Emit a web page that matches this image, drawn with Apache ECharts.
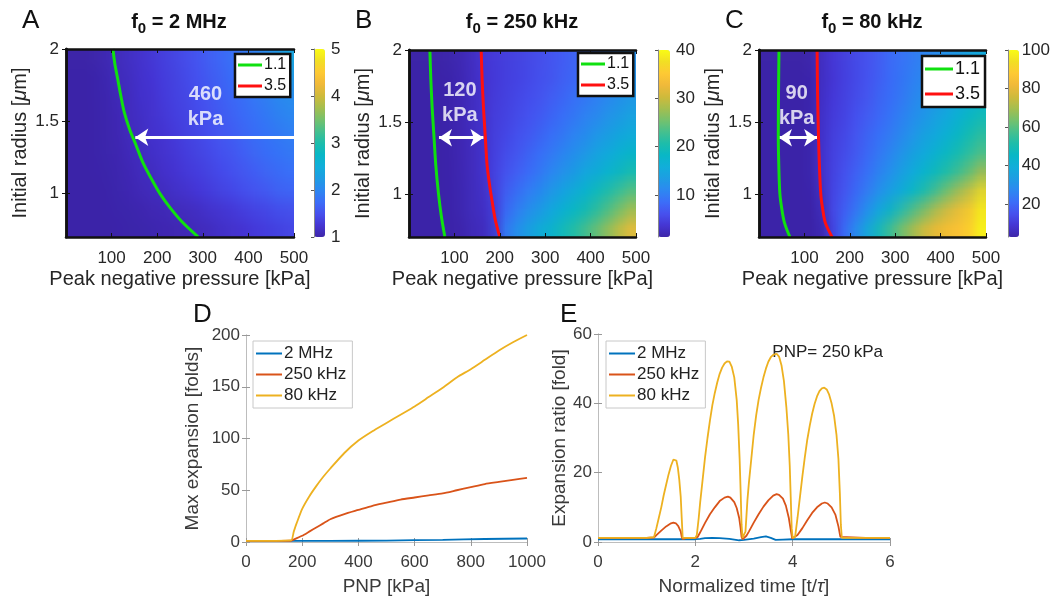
<!DOCTYPE html>
<html><head><meta charset="utf-8">
<script src="https://cdn.jsdelivr.net/npm/echarts@6/dist/echarts.min.js"></script>
<style>
html,body{margin:0;padding:0;background:#fff}
#wrap{position:relative;width:1053px;height:597px;overflow:hidden}
#c{position:absolute;left:0;top:0;width:1053px;height:597px;z-index:2}
.heat{position:absolute;width:20px;height:10px;transform-origin:0 0;z-index:1}
.heat canvas{image-rendering:auto}
</style>
</head><body><div id="wrap">
<div id="hA" class="heat"></div><div id="hB" class="heat"></div><div id="hC" class="heat"></div>
<div id="c"></div></div>
<script>
// ---------- DATA ----------
const pressureCells = [12.5,37.5,62.5,87.5,112.5,137.5,162.5,187.5,212.5,237.5,262.5,287.5,312.5,337.5,362.5,387.5,412.5,437.5,462.5,487.5];
const radiusCells = [0.765,0.895,1.025,1.155,1.285,1.415,1.545,1.675,1.805,1.935];
const pressureTicks = [100,200,300,400,500];
const radiusTicks = [1,1.5,2];

// rows from smallest radius (bottom) to largest (top)
const heatA = [
 [1.0,1.0,1.0,1.0,1.01,1.02,1.03,1.04,1.05,1.06,1.08,1.1,1.13,1.16,1.2,1.24,1.28,1.32,1.36,1.4],
 [1.0,1.0,1.0,1.01,1.02,1.03,1.04,1.06,1.07,1.09,1.1,1.13,1.17,1.21,1.25,1.29,1.33,1.37,1.41,1.45],
 [1.0,1.0,1.0,1.02,1.03,1.05,1.08,1.1,1.12,1.16,1.2,1.25,1.3,1.35,1.4,1.45,1.5,1.55,1.6,1.65],
 [1.0,1.0,1.01,1.02,1.04,1.07,1.1,1.13,1.17,1.22,1.27,1.32,1.37,1.42,1.48,1.53,1.59,1.64,1.7,1.75],
 [1.0,1.0,1.01,1.03,1.05,1.08,1.12,1.16,1.21,1.26,1.31,1.37,1.42,1.48,1.54,1.6,1.66,1.72,1.78,1.83],
 [1.0,1.0,1.01,1.03,1.06,1.1,1.14,1.19,1.24,1.29,1.35,1.41,1.47,1.53,1.59,1.65,1.72,1.78,1.84,1.9],
 [1.0,1.0,1.01,1.04,1.07,1.12,1.16,1.21,1.27,1.32,1.38,1.44,1.5,1.57,1.63,1.7,1.77,1.84,1.9,1.96],
 [1.0,1.0,1.02,1.04,1.08,1.13,1.18,1.23,1.29,1.35,1.41,1.47,1.54,1.61,1.68,1.75,1.82,1.89,1.96,2.04],
 [1.0,1.0,1.02,1.05,1.09,1.14,1.19,1.25,1.31,1.37,1.43,1.5,1.57,1.64,1.72,1.8,1.87,1.95,2.04,2.14],
 [1.0,1.0,1.02,1.05,1.1,1.15,1.2,1.26,1.32,1.38,1.45,1.52,1.6,1.68,1.76,1.84,1.92,2.02,2.14,2.35]
];
const heatB = [
 [1.0,1.0,1.04,1.18,1.5,2.0,2.5,3.0,9.5,12.0,14.0,16.0,17.8,19.6,21.4,23.3,25.3,27.5,30.0,33.0],
 [1.0,1.01,1.06,1.25,1.65,2.2,2.75,3.3,8.2,10.2,12.0,13.7,15.3,16.9,18.5,20.2,22.0,24.0,26.2,28.8],
 [1.0,1.01,1.08,1.3,1.75,2.35,2.9,4.2,7.2,8.8,10.3,11.8,13.3,14.8,16.3,17.9,19.5,21.2,23.0,25.0],
 [1.0,1.02,1.1,1.35,1.8,2.45,3.0,4.8,6.2,7.4,8.6,9.8,11.0,12.3,13.6,14.9,16.3,17.7,19.2,20.8],
 [1.0,1.02,1.12,1.38,1.85,2.5,3.1,4.6,5.7,6.7,7.7,8.8,9.9,11.0,12.1,13.3,14.5,15.7,17.0,18.4],
 [1.0,1.02,1.14,1.42,1.88,2.55,3.2,4.5,5.3,6.1,7.0,7.9,8.8,9.8,10.8,11.8,12.9,14.0,15.1,16.3],
 [1.0,1.03,1.16,1.45,1.9,2.6,3.3,4.4,5.0,5.7,6.4,7.2,8.0,8.8,9.7,10.6,11.5,12.5,13.5,14.6],
 [1.0,1.03,1.18,1.45,1.9,2.55,3.4,4.3,4.8,5.4,6.0,6.6,7.3,8.0,8.8,9.6,10.4,11.3,12.2,13.2],
 [1.0,1.03,1.17,1.42,1.85,2.5,3.5,4.2,4.6,5.1,5.6,6.1,6.7,7.4,8.1,8.8,9.6,10.4,11.3,12.3],
 [1.0,1.02,1.15,1.4,1.8,2.4,3.6,4.1,4.5,4.9,5.3,5.8,6.4,7.0,7.6,8.3,9.0,9.8,10.8,12.0]
];
const heatC = [
 [1,1,1.2,2,2.5,3.2,10,20,28,38,48,57,65,72,78,82,85,86,87,98],
 [1,1,1.5,2.5,3,3.3,13,18,23,30,38,46,54,61,68,75,80,84,86,97],
 [1,1,2,2.5,3,5,12.5,16,20,25,30,35,40,46,52,59,66,73,79,93],
 [1,1,2,2.5,3,7,12,15,18.5,22,26,30,34.5,39,44,48.5,53,58,63,72],
 [1,1,2,2.5,3,7.5,11.5,14,17,20,23.5,27,31,35,39,43,47,51,55,60],
 [1,1,2,2.5,3,7.5,11,13.5,16,19,22,25,28,31.5,35,38.5,42,46,50,55],
 [1,1,2,2.5,3,7,10.5,12.5,15,17.5,20,23,26,29,32,35,38,42,46,50],
 [1,1,2,2.5,3,7,10,12,14,16.5,19,21.5,24,27,29.5,32,35,38,41,45],
 [1,1,2,2.5,3,6.5,9.5,11.5,13.5,15.5,18,20.5,23,25.5,28,30,32.5,35,38,41],
 [1,1,2,2.5,3,6,9,11,13,15,17,20,22,24,26,28,30,32,35,38]
];
// contour lines [pressure kPa, radius um]
const contourA11 = [[103,2.0],[107,1.9],[113,1.8],[120,1.68],[128,1.56],[140,1.44],[153,1.34],[168,1.22],[186,1.11],[206,1.0],[229,0.9],[256,0.8],[290,0.7]];
const contourB11 = [[46,2.0],[48,1.8],[51,1.6],[55,1.4],[59,1.2],[65,1.0],[71,0.85],[79,0.7]];
const contourB35 = [[159,2.0],[161,1.8],[164,1.6],[168,1.4],[172,1.2],[178,1.05],[183,0.95],[190,0.82],[200,0.7]];
const contourC11 = [[44,2.0],[43,1.7],[42.5,1.4],[44,1.15],[46,1.0],[50,0.9],[56,0.8],[68,0.7]];
const contourC35 = [[128,2.0],[129,1.7],[131,1.4],[133,1.2],[136,1.0],[140,0.9],[146,0.8],[161,0.7]];
// annotations
const arrowA = [[500,1.39],[152,1.39]];
const arrowB = [[66,1.39],[164,1.39]];
const arrowC = [[44,1.39],[128,1.39]];
const labelA = [[306,1.6,'460\nkPa']];
const labelB = [[112,1.63,'120\nkPa']];
const labelC = [[83,1.61,'90\nkPa']];

// D: max expansion vs PNP
const d2MHz = [[0,1],[160,1],[300,1.1],[500,1.4],[700,2.1],[850,2.9],[1000,3.4]];
const d250k = [[0,1],[160,1.2],[175,3],[200,6],[225,10],[250,14],[275,18],[300,22],[350,27],[400,31],[450,35],[500,38],[550,41],[600,43],[650,45],[700,47],[750,50],[800,53],[850,56],[900,58],[950,60],[1000,62]];
const d80k = [[0,1],[160,1.5],[170,10],[180,18],[200,32],[225,44],[250,54],[275,63],[300,71],[350,86],[400,98],[450,107],[500,115],[550,123],[600,131],[650,140],[700,149],[750,159],[800,167],[850,176],[900,185],[950,193],[1000,200]];
// E: expansion ratio vs normalized time
const e2MHz = [[0,0.8],[1.0,0.8],[1.5,0.8],[2.0,0.8],[2.1,0.9],[2.2,1.1],[2.35,1.2],[2.5,1.1],[2.7,0.9],[2.9,0.5],[3.0,0.6],[3.2,1.0],[3.35,1.4],[3.45,1.6],[3.55,1.2],[3.65,0.6],[3.8,0.7],[4.0,0.8],[4.5,0.8],[5,0.8],[6,0.8]];
const e250k = [[0,1.2],[1.0,1.2],[1.15,1.3],[1.2,2],[1.3,3.3],[1.4,4.5],[1.5,5.4],[1.55,5.6],[1.6,5.4],[1.65,4.6],[1.7,3],[1.72,1.5],[1.74,0.8],[1.8,1.1],[2.0,1.2],[2.05,1.5],[2.1,2.8],[2.2,5.5],[2.3,8],[2.4,10],[2.5,11.8],[2.6,12.8],[2.67,13.1],[2.72,12.8],[2.8,11.5],[2.85,9.8],[2.9,7],[2.93,4],[2.95,1.5],[2.97,0.8],[3.0,1.1],[3.05,1.8],[3.1,3],[3.2,5.6],[3.3,8],[3.4,10.2],[3.5,12],[3.6,13.4],[3.67,13.8],[3.72,13.6],[3.8,12.5],[3.86,10.5],[3.92,7],[3.96,3.5],[3.99,1],[4.02,1.1],[4.1,2],[4.2,4],[4.3,6.3],[4.4,8.4],[4.5,10],[4.6,11.1],[4.66,11.4],[4.72,11.1],[4.8,10],[4.88,7.8],[4.94,4.5],[4.98,1.5],[5.01,1.1],[5.5,1.2],[6,1.2]];
const e80k = [[0,1.2],[0.5,1.2],[1.0,1.2],[1.15,1.4],[1.2,4],[1.25,7],[1.3,10],[1.35,13.5],[1.4,16.5],[1.45,19.5],[1.5,22],[1.55,23.8],[1.58,24.2],[1.61,23.5],[1.64,21.5],[1.67,18],[1.7,13],[1.72,7],[1.74,1.2],[1.8,1.2],[1.9,1.2],[2.0,1.2],[2.03,2],[2.07,7],[2.1,11.5],[2.15,18],[2.2,24.5],[2.25,30],[2.3,35],[2.35,39.5],[2.4,43],[2.45,46],[2.5,48.5],[2.55,50.3],[2.6,51.5],[2.65,52.1],[2.7,52],[2.75,50.5],[2.8,47.5],[2.85,41],[2.88,34],[2.91,24],[2.93,15],[2.95,5],[2.97,1.2],[3.0,1.2],[3.03,3],[3.07,12],[3.1,17],[3.15,24],[3.2,31],[3.25,36.5],[3.3,41],[3.35,44.5],[3.4,47.5],[3.45,50],[3.5,52],[3.55,53.3],[3.6,54],[3.67,54.3],[3.72,53.5],[3.77,51],[3.82,46.5],[3.87,39],[3.91,31],[3.94,22],[3.96,13],[3.98,4],[4.0,1.2],[4.05,1.5],[4.1,7],[4.15,13],[4.2,19],[4.25,24.5],[4.3,29.5],[4.35,33.5],[4.4,37],[4.45,39.8],[4.5,42],[4.55,43.5],[4.6,44.3],[4.65,44.5],[4.7,44],[4.75,42.5],[4.8,40],[4.85,36.5],[4.9,31],[4.94,24],[4.97,14],[4.99,5],[5.01,1.2],[5.5,1.2],[6,1.2]];

// ---------- STYLE ----------
const PARULA = ['#3E26A8','#4536D3','#4751EE','#3C6EF8','#2D88F1','#1E9DE3','#11AEDA','#08B7C6','#1DBDAA','#46C08E','#76C16C','#A5BE4F','#CFBA3B','#F0B93A','#FEC934','#F2DF24','#F9FB15'];
const FONT = 'Liberation Sans, Arial, Helvetica, sans-serif';
const DARK = '#262626';

const panels = [
  {id:'hA', heat: heatA, c11: contourA11, c35: [], arrow: arrowA, arrowSym:['none','arrow'], label: labelA,
   grid:{left:66,top:49,width:228,height:188}, cb:{left:314,top:49,width:11,height:188}, vmin:1, vmax:5, cbTicks:[1,2,3,4,5],
   legend:{left:235,top:54}, title:'{a|f}{b|0}{a| = 2 MHz}', titleX:179, letter:'A', letterX:22},
  {id:'hB', heat: heatB, c11: contourB11, c35: contourB35, arrow: arrowB, arrowSym:['arrow','arrow'], label: labelB,
   grid:{left:409,top:50,width:227,height:187}, cb:{left:658,top:50,width:12,height:187}, vmin:1.3, vmax:40, cbTicks:[10,20,30,40],
   legend:{left:578,top:53}, title:'{a|f}{b|0}{a| = 250 kHz}', titleX:522, letter:'B', letterX:355},
  {id:'hC', heat: heatC, c11: contourC11, c35: contourC35, arrow: arrowC, arrowSym:['arrow','arrow'], label: labelC,
   grid:{left:759,top:50,width:227,height:187}, cb:{left:1008,top:50,width:11,height:187}, vmin:3, vmax:100, cbTicks:[20,40,60,80,100],
   legend:{left:922,top:56}, title:'{a|f}{b|0}{a| = 80 kHz}', titleX:872, letter:'C', letterX:725}
];

// ---- heat maps: each drawn by its own small chart, one pixel per cell, then smoothly upscaled by the browser ----
panels.forEach(p => {
  const el = document.getElementById(p.id);
  const nx = pressureCells.length, ny = radiusCells.length;
  el.style.left = p.grid.left + 'px';
  el.style.top = p.grid.top + 'px';
  el.style.transform = 'scale(' + (p.grid.width / nx) + ',' + (p.grid.height / ny) + ')';
  const data = [];
  p.heat.forEach((row, yi) => row.forEach((v, xi) => data.push([xi, yi, v])));
  const hc = echarts.init(el, null, {renderer:'canvas', width:nx, height:ny, devicePixelRatio:1});
  hc.setOption({
    animation:false,
    grid:{left:0, right:0, top:0, bottom:0},
    xAxis:{type:'category', data:pressureCells.map(String), show:false},
    yAxis:{type:'category', data:radiusCells.map(String), show:false},
    visualMap:{show:false, type:'continuous', min:p.vmin, max:p.vmax, inRange:{color:PARULA}, outOfRange:{color:['#3E26A8']}},
    series:[{type:'heatmap', data, itemStyle:{borderWidth:0}, emphasis:{disabled:true}}]
  });
});

const grids = [], xAxes = [], yAxes = [], series = [], visualMaps = [], legends = [], graphics = [];
const frameLine = {show:true, lineStyle:{color:'#111', width:2.5}};
const tickIn = (vals) => ({show:true, inside:true, length:4, lineStyle:{color:'#111', width:1}, customValues: vals});

// value grids 0,1,2 : x axes 0..5, y axes 0..5
panels.forEach((p, i) => {
  grids.push(Object.assign({}, p.grid));
  xAxes.push({type:'value', gridIndex:i, min:0, max:500, z:10, splitLine:{show:false},
    axisLine: frameLine, axisTick: tickIn(pressureTicks),
    axisLabel:{customValues: pressureTicks, fontSize:17, color:DARK, margin:13, fontFamily:FONT},
    name:'Peak negative pressure [kPa]', nameLocation:'middle', nameGap:32,
    nameTextStyle:{fontSize:20, color:DARK, fontFamily:FONT}});
  xAxes.push({type:'value', gridIndex:i, position:'top', min:0, max:500, z:10, splitLine:{show:false},
    axisLine: frameLine, axisTick: tickIn(pressureTicks), axisLabel:{show:false}});
  yAxes.push({type:'value', gridIndex:i, min:0.7, max:2, z:10, splitLine:{show:false},
    axisLine: frameLine, axisTick: tickIn(radiusTicks),
    axisLabel:{customValues: radiusTicks, fontSize:17, color:DARK, margin:7, fontFamily:FONT},
    name:'{n|Initial radius [}{i|μ}{n|m]}', nameLocation:'middle', nameGap:36, nameRotate:90,
    nameTextStyle:{rich:{n:{fontSize:20, color:DARK, fontFamily:FONT}, i:{fontSize:20, color:DARK, fontStyle:'italic', fontFamily:FONT}}}});
  yAxes.push({type:'value', gridIndex:i, position:'right', min:0.7, max:2, z:10, splitLine:{show:false},
    axisLine: frameLine, axisTick: tickIn(radiusTicks), axisLabel:{show:false}});
});
// colorbar grids 3,4,5 : x axes 6,7,8 ; y axes 6,7,8
panels.forEach((p, i) => {
  grids.push(Object.assign({}, p.cb));
  xAxes.push({type:'value', gridIndex:3+i, show:false, min:0, max:1});
  yAxes.push({type:'value', gridIndex:3+i, position:'right', min:p.vmin, max:p.vmax, z:10, splitLine:{show:false},
    axisLine:{show:true, lineStyle:{color:'#888', width:1}},
    axisTick:{show:true, inside:true, length:3, lineStyle:{color:'#555'}, customValues:p.cbTicks},
    axisLabel:{customValues:p.cbTicks, fontSize:17, color:DARK, margin:6, fontFamily:FONT}});
  visualMaps.push({type:'continuous', seriesIndex:[], min:p.vmin, max:p.vmax,
    left:p.cb.left, top:p.cb.top, itemWidth:p.cb.width, itemHeight:p.cb.height, padding:0,
    calculable:false, hoverLink:false, orient:'vertical',
    inRange:{color:PARULA}, textStyle:{color:'transparent'}});
});
// D (grid 6, x/y axes 9,10) & E (grid 7, x/y axes 11,12)
const lineAxis = {color:'#bdbdbd', width:1};
const grayLbl = '#3a3a3a';
const plainNum = v => String(v);
grids.push({left:246, top:335, width:281, height:209});
grids.push({left:598, top:334, width:292, height:210});
xAxes.push({type:'value', gridIndex:6, min:0, max:1000, interval:200, splitLine:{show:false},
  axisLine:{lineStyle:lineAxis}, axisTick:{inside:true, length:4, lineStyle:{color:'#999'}},
  axisLabel:{fontSize:17, color:grayLbl, margin:12, fontFamily:FONT, formatter:plainNum},
  name:'PNP [kPa]', nameLocation:'middle', nameGap:35, nameTextStyle:{fontSize:19, color:grayLbl, fontFamily:FONT}});
xAxes.push({type:'value', gridIndex:6, position:'top', min:0, max:1000, interval:200, splitLine:{show:false},
  axisLine:{lineStyle:lineAxis}, axisTick:{inside:true, length:4, lineStyle:{color:'#999'}}, axisLabel:{show:false}});
yAxes.push({type:'value', gridIndex:6, min:0, max:200, interval:50, splitLine:{show:false},
  axisLine:{show:true, lineStyle:lineAxis}, axisTick:{show:true, inside:true, length:4, lineStyle:{color:'#999'}},
  axisLabel:{fontSize:17, color:grayLbl, margin:6, fontFamily:FONT},
  name:'Max expansion [folds]', nameLocation:'middle', nameGap:44, nameRotate:90, nameTextStyle:{fontSize:19, color:grayLbl, fontFamily:FONT}});
yAxes.push({type:'value', gridIndex:6, position:'right', min:0, max:200, interval:50, splitLine:{show:false},
  axisLine:{show:true, lineStyle:lineAxis}, axisTick:{show:true, inside:true, length:4, lineStyle:{color:'#999'}}, axisLabel:{show:false}});
xAxes.push({type:'value', gridIndex:7, min:0, max:6, interval:2, splitLine:{show:false},
  axisLine:{lineStyle:lineAxis}, axisTick:{inside:true, length:4, lineStyle:{color:'#999'}},
  axisLabel:{fontSize:17, color:grayLbl, margin:12, fontFamily:FONT},
  name:'{n|Normalized time [t/}{i|τ}{n|]}', nameLocation:'middle', nameGap:35,
  nameTextStyle:{rich:{n:{fontSize:19, color:grayLbl, fontFamily:FONT}, i:{fontSize:19, color:grayLbl, fontStyle:'italic', fontFamily:FONT}}}});
xAxes.push({type:'value', gridIndex:7, position:'top', min:0, max:6, interval:2, splitLine:{show:false},
  axisLine:{lineStyle:lineAxis}, axisTick:{inside:true, length:4, lineStyle:{color:'#999'}}, axisLabel:{show:false}});
yAxes.push({type:'value', gridIndex:7, min:0, max:60, interval:20, splitLine:{show:false},
  axisLine:{show:true, lineStyle:lineAxis}, axisTick:{show:true, inside:true, length:4, lineStyle:{color:'#999'}},
  axisLabel:{fontSize:17, color:grayLbl, margin:6, fontFamily:FONT},
  name:'Expansion ratio [fold]', nameLocation:'middle', nameGap:29, nameRotate:90, nameTextStyle:{fontSize:19, color:grayLbl, fontFamily:FONT}});
yAxes.push({type:'value', gridIndex:7, position:'right', min:0, max:60, interval:20, splitLine:{show:false},
  axisLine:{show:true, lineStyle:lineAxis}, axisTick:{show:true, inside:true, length:4, lineStyle:{color:'#999'}}, axisLabel:{show:false}});

panels.forEach((p, i) => {
  const ax = 2*i;
  series.push({type:'line', name:'1.1', xAxisIndex:ax, yAxisIndex:ax, data:p.c11, smooth:0.3, symbol:'none',
    lineStyle:{color:'#10e010', width:3}, itemStyle:{color:'#10e010'}, z:5});
  series.push({type:'line', name:'3.5', xAxisIndex:ax, yAxisIndex:ax, data:p.c35, smooth:0.3, symbol:'none',
    lineStyle:{color:'#ff1010', width:3}, itemStyle:{color:'#ff1010'}, z:5});
  series.push({type:'scatter', xAxisIndex:ax, yAxisIndex:ax, symbolSize:0, z:6,
    data: p.label.map(d => ({value:[d[0], d[1]], label:{formatter:d[2]}})),
    label:{show:true, position:'inside', color:'#fff', fontSize:20, fontWeight:'bold', lineHeight:25, align:'center', fontFamily:FONT},
    markLine:{silent:true, symbol:p.arrowSym, symbolSize:[13,13], label:{show:false},
      lineStyle:{color:'#fff', width:3, type:'solid'},
      data:[[{coord:p.arrow[0]},{coord:p.arrow[1]}]]}});
  legends.push({data:['1.1','3.5'], left:p.legend.left, top:p.legend.top, orient:'vertical',
    backgroundColor:'#fff', borderColor:'#111', borderWidth:2.5, borderRadius:0, icon:'rect',
    padding: i===2 ? [4,5,4,3] : [3,4,3,3], itemGap: i===2 ? 7 : 5, itemWidth: i===2 ? 28 : 24, itemHeight:3,
    selectedMode:false, textStyle:{fontSize: i===2 ? 18 : 16, color:'#111', fontFamily:FONT, padding:[0,0,0,-3]}});
  graphics.push({type:'text', x:p.titleX, y:22, style:{text:p.title, align:'center', verticalAlign:'middle', textAlign:'center', textVerticalAlign:'middle',
    rich:{a:{fontSize:20, fontWeight:'bold', fill:'#111', color:'#111', fontFamily:FONT}, b:{fontSize:15, fontWeight:'bold', fill:'#111', color:'#111', fontFamily:FONT, padding:[14,0,0,0]}}}});
  graphics.push({type:'text', x:p.letterX, y:8, style:{text:p.letter, fontSize:26, fill:'#111', fontFamily:FONT}});
});
const MCOL = ['#0072BD','#D95319','#EDB120'];
[[d2MHz,d250k,d80k,9,0.2],[e2MHz,e250k,e80k,11,0]].forEach(set => {
  ['2 MHz','250 kHz','80 kHz'].forEach((nm, k) => {
    series.push({type:'line', name:nm, xAxisIndex:set[3], yAxisIndex:set[3], data:set[k], symbol:'none', smooth:set[4],
      lineStyle:{color:MCOL[k], width:1.8}, itemStyle:{color:MCOL[k]}, z:3});
  });
});
[{left:253, top:341}, {left:606, top:341}].forEach(pos => {
  legends.push({data:['2 MHz','250 kHz','80 kHz'], left:pos.left, top:pos.top, orient:'vertical', backgroundColor:'#fff',
    borderColor:'#c8c8c8', borderWidth:1, padding:[4,6,4,3], itemGap:4, itemWidth:26, itemHeight:2, icon:'rect', selectedMode:false,
    textStyle:{fontSize:17, color:'#222', fontFamily:FONT, padding:[0,0,0,-3]}});
});
graphics.push({type:'text', x:193, y:302, style:{text:'D', fontSize:26, fill:'#111', fontFamily:FONT}});
graphics.push({type:'text', x:560, y:302, style:{text:'E', fontSize:26, fill:'#111', fontFamily:FONT}});
graphics.push({type:'text', x:883, y:352, style:{text:'PNP= 250\u2009kPa', fontSize:17, fill:'#222', fontFamily:FONT, align:'right', textAlign:'right', verticalAlign:'middle', textVerticalAlign:'middle'}});

const chart = echarts.init(document.getElementById('c'), null, {renderer:'canvas'});
chart.setOption({
  animation:false, backgroundColor:'transparent', textStyle:{fontFamily:FONT},
  grid: grids, xAxis: xAxes, yAxis: yAxes, visualMap: visualMaps, legend: legends, series, graphic: graphics
});
</script></body></html>
